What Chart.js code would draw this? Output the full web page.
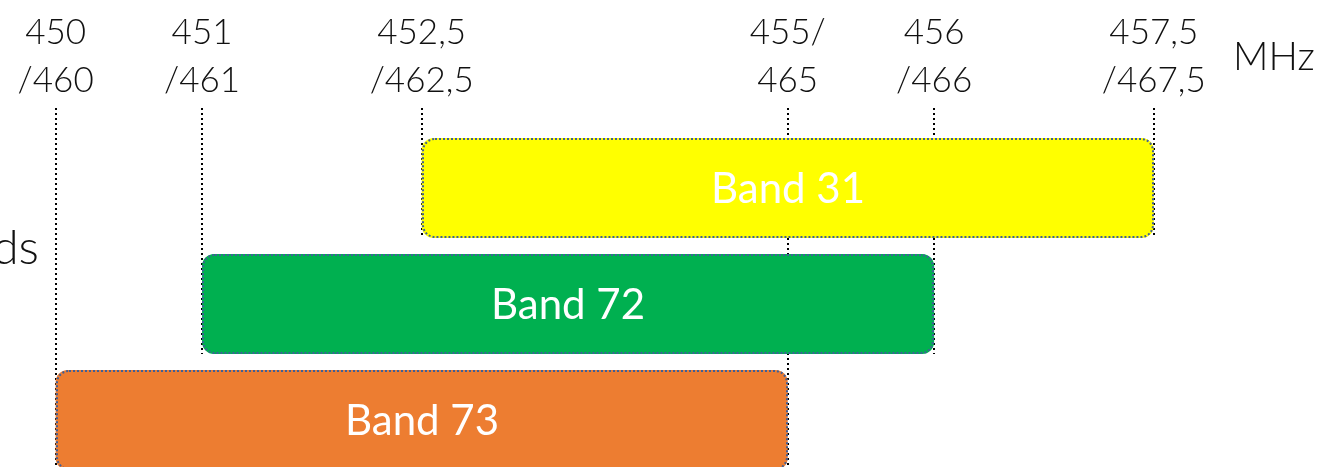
<!DOCTYPE html>
<html>
<head>
<meta charset="utf-8">
<script src="https://cdn.jsdelivr.net/npm/chart.js@4.4.1/dist/chart.umd.min.js"></script>
<style>
  html, body { margin: 0; padding: 0; background: #fff; overflow: hidden; }
  #wrap { position: relative; width: 1328px; height: 478px; }
</style>
</head>
<body>
<div id="wrap"><canvas id="bandasChart"></canvas></div>
<script>
// Bandas y rangos de frecuencia (MHz)
const bandas = ['Band 31', 'Band 72', 'Band 73'];
const inicioBanda = [452.5, 451, 450];
const finBanda = [457.5, 456, 455];
const coloresBanda = ['#ffff00', '#00b050', '#ed7d31'];

// Marcas del eje superior: enlace ascendente / descendente
const valoresTick = [450, 451, 452.5, 455, 456, 457.5];
const tickLinea1 = ['450', '451', '452,5', '455/', '456', '457,5'];
const tickLinea2 = ['/460', '/461', '/462,5', '465', '/466', '/467,5'];

const fuente = "Lato, 'Open Sans', sans-serif";

// Líneas punteadas verticales desde cada marca hasta la banda que delimita
const lineasGuia = {
    id: 'lineasGuia',
    beforeDatasetsDraw(chart) {
        const ctx = chart.ctx;
        const x = chart.scales.x;
        const meta = chart.getDatasetMeta(0);
        ctx.save();
        ctx.strokeStyle = '#000';
        ctx.lineWidth = 2;
        ctx.setLineDash([2, 3]);
        valoresTick.forEach(v => {
            let fin = chart.chartArea.top;
            for (let i = 0; i < bandas.length; i++) {
                if (inicioBanda[i] === v || finBanda[i] === v) {
                    const bar = meta.data[i];
                    fin = Math.max(fin, bar.y + bar.height / 2);
                }
            }
            const px = Math.round(x.getPixelForValue(v));
            ctx.beginPath();
            ctx.moveTo(px, 108);
            ctx.lineTo(px, fin);
            ctx.stroke();
        });
        ctx.restore();
    }
};

// Contorno punteado y nombre de cada banda
const contornoYTexto = {
    id: 'contornoYTexto',
    afterDatasetsDraw(chart) {
        const ctx = chart.ctx;
        const meta = chart.getDatasetMeta(0);
        ctx.save();
        meta.data.forEach((bar, i) => {
            const left = Math.round(Math.min(bar.x, bar.base));
            const w = Math.round(Math.abs(bar.x - bar.base));
            const top = Math.round(bar.y - bar.height / 2);
            ctx.beginPath();
            ctx.roundRect(left + 1, top + 1, w - 2, Math.round(bar.height) - 2, 12);
            ctx.strokeStyle = '#3f5f98';
            ctx.lineWidth = 2;
            ctx.setLineDash([2, 2]);
            ctx.stroke();

            ctx.setLineDash([]);
            ctx.fillStyle = '#fff';
            ctx.font = '42px ' + fuente;
            ctx.textAlign = 'center';
            ctx.textBaseline = 'middle';
            ctx.fillText(bandas[i], left + w / 2, bar.y + 1);
        });

        // Unidad y título lateral
        ctx.fillStyle = '#111';
        ctx.font = '300 39px ' + fuente;
        ctx.textAlign = 'left';
        ctx.textBaseline = 'alphabetic';
        ctx.fillText('MHz', 1233, 70);
        ctx.font = '300 48px ' + fuente;
        ctx.textAlign = 'right';
        ctx.fillText('Bands', 39, 264);
        ctx.restore();
    }
};

new Chart(document.getElementById('bandasChart'), {
    type: 'bar',
    data: {
        labels: bandas,
        datasets: [{
            data: bandas.map((b, i) => [inicioBanda[i], finBanda[i]]),
            backgroundColor: coloresBanda,
            borderWidth: 0,
            borderRadius: 12,
            borderSkipped: false,
            categoryPercentage: 1,
            barPercentage: 0.862
        }]
    },
    options: {
        indexAxis: 'y',
        responsive: true,
        maintainAspectRatio: false,
        animation: false,
        layout: { padding: 0 },
        plugins: {
            legend: { display: false },
            tooltip: { enabled: false }
        },
        scales: {
            x: {
                type: 'linear',
                position: 'top',
                min: 449.62,
                max: 458.69,
                grid: { display: false },
                border: { display: false },
                afterBuildTicks: (scale) => {
                    scale.ticks = valoresTick.map(v => ({ value: v }));
                },
                afterFit: (scale) => {
                    scale.height = 130;
                    scale.paddingLeft = 0;
                    scale.paddingRight = 0;
                },
                ticks: {
                    autoSkip: false,
                    maxRotation: 0,
                    padding: 17,
                    color: '#111',
                    font: { family: fuente, size: 35, weight: '300', lineHeight: 1.37 },
                    callback: (v, i) => [tickLinea1[i], tickLinea2[i]]
                }
            },
            y: {
                type: 'category',
                display: false
            }
        }
    },
    plugins: [lineasGuia, contornoYTexto]
});
</script>
</body>
</html>
